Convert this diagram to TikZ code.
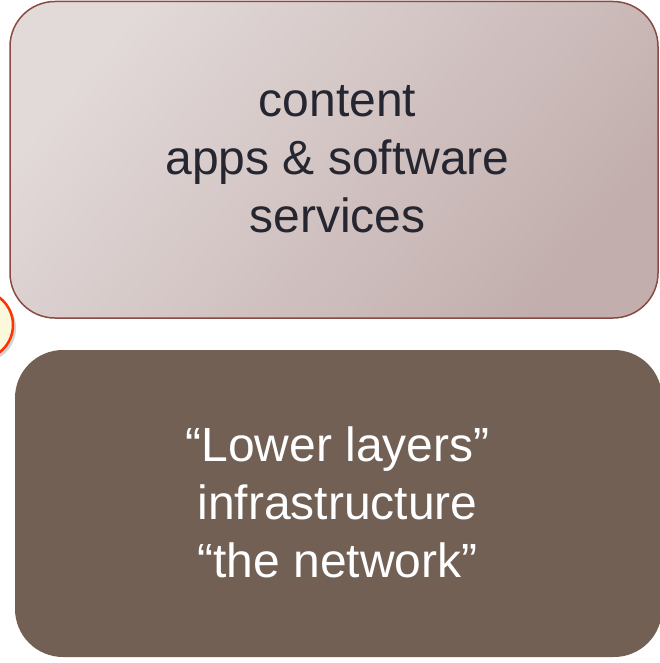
\documentclass[tikz,border=0pt]{standalone}
\usepackage{fontspec}
\setmainfont{Liberation Sans}
\usetikzlibrary{shadows}
\definecolor{boxlight}{HTML}{E2D9D9}
\definecolor{boxdark}{HTML}{C2AFAD}
\definecolor{boxborder}{HTML}{8A4A42}
\definecolor{lowerfill}{HTML}{726055}
\definecolor{darktext}{HTML}{262630}
\definecolor{bubblefill}{HTML}{FBF8DC}
\definecolor{bubbleline}{HTML}{FF3300}
\tikzset{
  layertext/.style={font=\fontsize{48pt}{58pt}\selectfont, align=center, inner sep=0pt},
}
\begin{document}
\begin{tikzpicture}[x=1pt,y=1pt]
\useasboundingbox (0,0) rectangle (659,-663);
% lower box
\fill[lowerfill, rounded corners=48pt] (15,-350) rectangle (662,-657);
% upper box
\draw[boxborder, line width=1.5pt, top color=boxlight, bottom color=boxdark, shading angle=50, rounded corners=45pt]
  (10,-1.5) rectangle (658,-318);
% bubble at left
\node[circle, minimum size=69pt, inner sep=0pt, fill=bubblefill, draw=bubbleline, line width=2.5pt,
  drop shadow={opacity=0.35, shadow xshift=3pt, shadow yshift=-3pt}] (bubble) at (-21.5,-325) {};
% texts
\node[layertext, text=darktext] (upper) at (337.5,-159) {content\\apps \& software\\services};
\node[layertext, text=white] (lower) at (337.5,-502.5) {“Lower layers”\\infrastructure\\“the network”};
\end{tikzpicture}
\end{document}
